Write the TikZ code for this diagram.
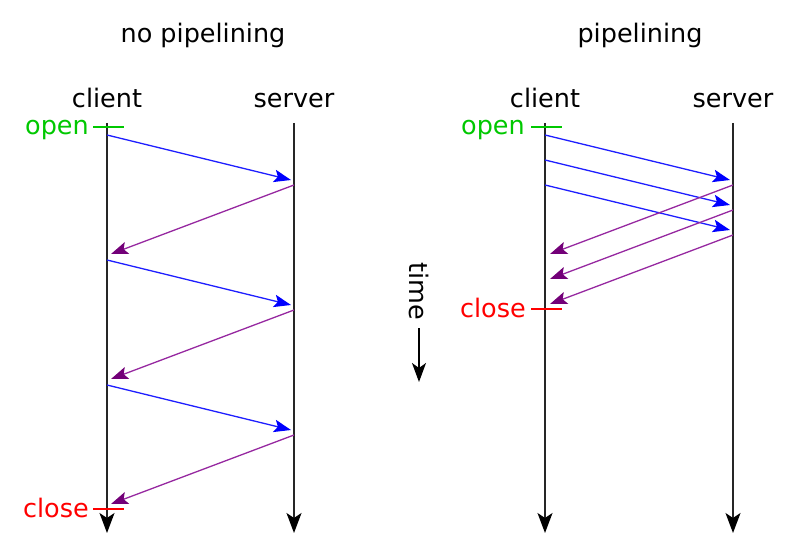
\documentclass[tikz,border=0pt]{standalone}
\usepackage{fontspec}
\setmainfont{DejaVu Sans}
\usetikzlibrary{arrows.meta}
\definecolor{msgblue}{RGB}{30,30,255}
\definecolor{msgpurple}{RGB}{150,40,160}
\definecolor{headpurple}{RGB}{115,0,120}
\definecolor{opengreen}{RGB}{0,200,0}
\definecolor{closered}{RGB}{255,0,0}
\tikzset{
  lifeline/.style={draw=black!85, line width=1.4pt, -{Stealth[length=20pt,width=15pt,inset=5pt,color=black]}},
  req/.style={draw=msgblue, line width=1.3pt, -{Stealth[length=17pt,width=12.5pt,inset=3.5pt,color=blue]}},
  resp/.style={draw=msgpurple, line width=1.3pt, -{Stealth[length=17pt,width=12.5pt,inset=3.5pt,color=headpurple]}},
  lbl/.style={font=\fontsize{25.5}{30}\selectfont, inner sep=0pt},
  opentick/.style={draw=opengreen, line width=2.3pt},
  closetick/.style={draw=closered, line width=2.3pt},
}
\begin{document}
\begin{tikzpicture}[x=1pt,y=-1pt]
\useasboundingbox (0,0) rectangle (800,556);
% titles
\node[lbl, anchor=base] (t1) at (203,43) {no pipelining};
\node[lbl, anchor=base] (t2) at (640,43) {pipelining};
\node[lbl, anchor=base] (c1) at (107,108) {client};
\node[lbl, anchor=base] (s1) at (294,108) {server};
\node[lbl, anchor=base] (c2) at (545,108) {client};
\node[lbl, anchor=base] (s2) at (733,108) {server};
% lifelines
\coordinate (c1top) at (107,123); \coordinate (c1bot) at (107,533);
\coordinate (s1top) at (294,123); \coordinate (s1bot) at (294,533);
\coordinate (c2top) at (545,123); \coordinate (c2bot) at (545,533);
\coordinate (s2top) at (733,123); \coordinate (s2bot) at (733,533);
\draw[lifeline] (c1top) -- (c1bot);
\draw[lifeline] (s1top) -- (s1bot);
\draw[lifeline] (c2top) -- (c2bot);
\draw[lifeline] (s2top) -- (s2bot);
% open / close left
\coordinate (o1a) at (93,127); \coordinate (o1b) at (124,127);
\draw[opentick] (o1a) -- (o1b);
\node[lbl, anchor=base east, text=opengreen] (open1) at (89,135) {open};
\coordinate (x1a) at (93,509); \coordinate (x1b) at (124,509);
\draw[closetick] (x1a) -- (x1b);
\node[lbl, anchor=base east, text=closered] (close1) at (89,517) {close};
% open / close right
\coordinate (o2a) at (531,127); \coordinate (o2b) at (562,127);
\draw[opentick] (o2a) -- (o2b);
\node[lbl, anchor=base east, text=opengreen] (open2) at (525,135) {open};
\coordinate (x2a) at (531,309); \coordinate (x2b) at (562,309);
\draw[closetick] (x2a) -- (x2b);
\node[lbl, anchor=base east, text=closered] (close2) at (526,317) {close};
% left messages
\coordinate (a1) at (107,135); \coordinate (b1) at (291,180);
\coordinate (a2) at (294,185); \coordinate (b2) at (111,254);
\coordinate (a3) at (107,260); \coordinate (b3) at (291,305);
\coordinate (a4) at (294,310); \coordinate (b4) at (111,379);
\coordinate (a5) at (107,385); \coordinate (b5) at (291,430);
\coordinate (a6) at (294,435); \coordinate (b6) at (111,504);
\draw[req] (a1) -- (b1);
\draw[resp] (a2) -- (b2);
\draw[req] (a3) -- (b3);
\draw[resp] (a4) -- (b4);
\draw[req] (a5) -- (b5);
\draw[resp] (a6) -- (b6);
% right messages
\coordinate (p1) at (545,135); \coordinate (q1) at (730,180);
\coordinate (p2) at (545,160); \coordinate (q2) at (730,205);
\coordinate (p3) at (545,185); \coordinate (q3) at (730,230);
\coordinate (r1) at (733,185); \coordinate (u1) at (550,254);
\coordinate (r2) at (733,210); \coordinate (u2) at (550,279);
\coordinate (r3) at (733,235); \coordinate (u3) at (550,304);
\draw[req] (p1) -- (q1);
\draw[req] (p2) -- (q2);
\draw[req] (p3) -- (q3);
\draw[resp] (r1) -- (u1);
\draw[resp] (r2) -- (u2);
\draw[resp] (r3) -- (u3);
% time
\node[lbl, rotate=-90] (time) at (419,291) {time};
\coordinate (ta) at (419,328); \coordinate (tb) at (419,382);
\draw[draw=black, line width=1.4pt, -{Stealth[length=19pt,width=14pt,inset=5pt]}] (ta) -- (tb);
\end{tikzpicture}
\end{document}
